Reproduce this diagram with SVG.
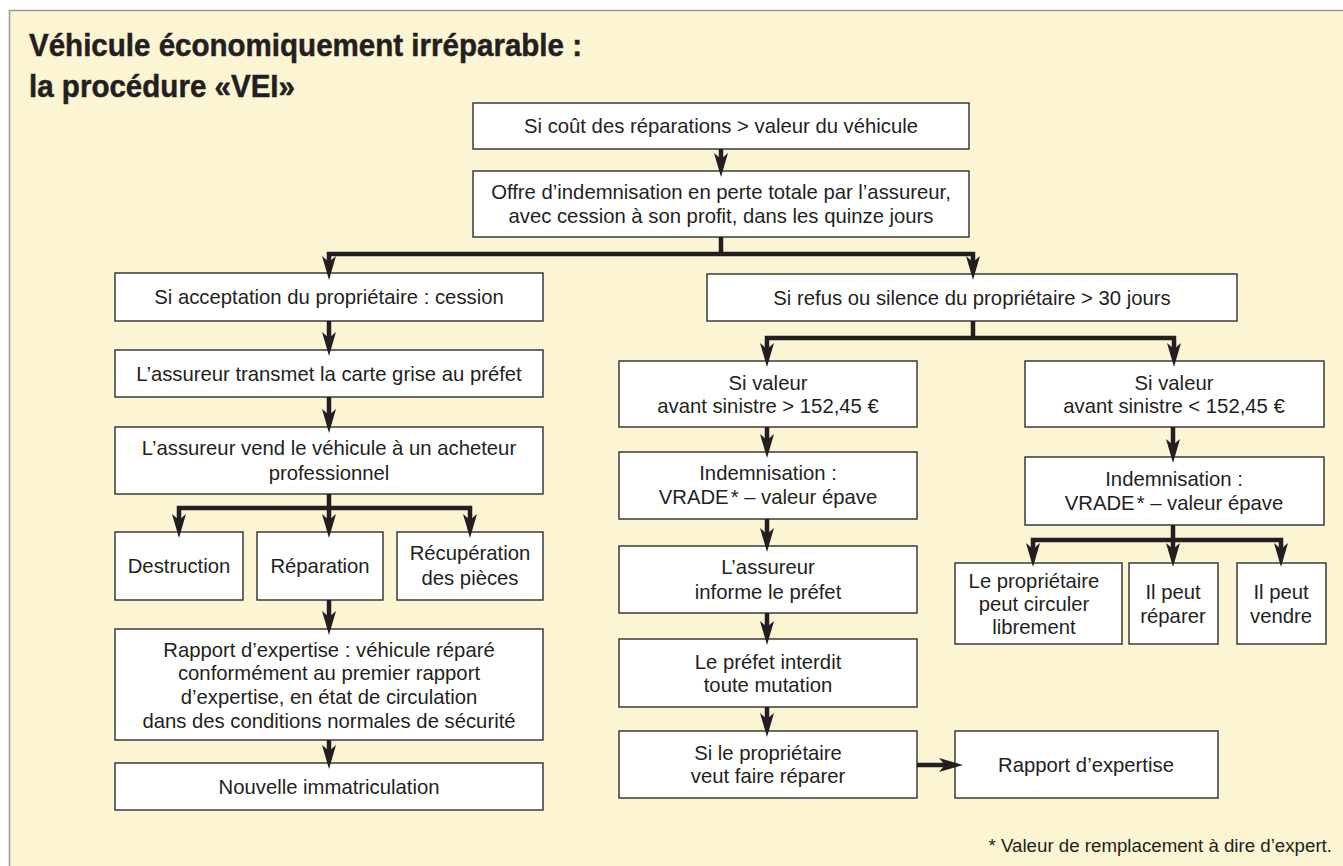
<svg xmlns="http://www.w3.org/2000/svg" width="1343" height="866" viewBox="0 0 1343 866">
<style>
.bg{fill:#FCF5D4;stroke:#9a9a9a;stroke-width:1.5}
.box{fill:#ffffff;stroke:#2e2e2e;stroke-width:1.4}
.t{font-family:"Liberation Sans",Arial,sans-serif;font-size:20.3px;fill:#231F20;text-anchor:middle}
.title{font-family:"Liberation Sans Narrow","Liberation Sans",Arial,sans-serif;font-size:32px;font-weight:bold;fill:#231F20;stroke:#231F20;stroke-width:0.5}
.note{font-family:"Liberation Sans",Arial,sans-serif;font-size:18.7px;fill:#231F20;text-anchor:end}
.c{fill:none;stroke:#231F20;stroke-width:4.5;stroke-linejoin:miter}
.a{marker-end:url(#ah)}
.a2{marker-start:url(#ah);marker-end:url(#ah)}
</style>
<defs>
<marker id="ah" viewBox="0 0 24 14" refX="12" refY="7" markerWidth="24" markerHeight="14" markerUnits="userSpaceOnUse" orient="auto-start-reverse">
<path d="M0,0 L24,7 L0,14 L6,7 Z" fill="#231F20"/>
</marker>
</defs>
<rect class="bg" x="9.5" y="10.5" width="1345" height="870"/>
<g id="title">
<text class="title" x="29" y="56" textLength="553" lengthAdjust="spacingAndGlyphs">Véhicule économiquement irréparable :</text>
<text class="title" x="29" y="97" textLength="266" lengthAdjust="spacingAndGlyphs">la procédure «VEI»</text>
</g>
<g id="n1"><rect class="box" x="473" y="103" width="496" height="46"/><text class="t" x="721" y="133">Si coût des réparations &gt; valeur du véhicule</text></g>
<g id="n2"><rect class="box" x="473" y="171" width="496" height="66"/><text class="t" x="721" y="199">Offre d’indemnisation en perte totale par l’assureur,</text><text class="t" x="721" y="223">avec cession à son profit, dans les quinze jours</text></g>
<g id="l1"><rect class="box" x="115" y="273" width="428" height="48"/><text class="t" x="329" y="304">Si acceptation du propriétaire : cession</text></g>
<g id="l2"><rect class="box" x="115" y="350" width="428" height="47"/><text class="t" x="329" y="381">L’assureur transmet la carte grise au préfet</text></g>
<g id="l3"><rect class="box" x="115" y="427" width="428" height="67"/><text class="t" x="329" y="455">L’assureur vend le véhicule à un acheteur</text><text class="t" x="329" y="480">professionnel</text></g>
<g id="l4a"><rect class="box" x="115" y="532" width="128" height="68"/><text class="t" x="179" y="573">Destruction</text></g>
<g id="l4b"><rect class="box" x="257" y="532" width="126" height="68"/><text class="t" x="320" y="573">Réparation</text></g>
<g id="l4c"><rect class="box" x="397" y="532" width="146" height="68"/><text class="t" x="470" y="560">Récupération</text><text class="t" x="470" y="585">des pièces</text></g>
<g id="l5"><rect class="box" x="115" y="629" width="428" height="111"/><text class="t" x="329" y="657">Rapport d’expertise : véhicule réparé</text><text class="t" x="329" y="680">conformément au premier rapport</text><text class="t" x="329" y="704">d’expertise, en état de circulation</text><text class="t" x="329" y="728">dans des conditions normales de sécurité</text></g>
<g id="l6"><rect class="box" x="115" y="763" width="428" height="47"/><text class="t" x="329" y="794">Nouvelle immatriculation</text></g>
<g id="r1"><rect class="box" x="707" y="274" width="530" height="47"/><text class="t" x="972" y="305">Si refus ou silence du propriétaire &gt; 30 jours</text></g>
<g id="r2a"><rect class="box" x="619" y="361" width="298" height="66"/><text class="t" x="768" y="390">Si valeur</text><text class="t" x="768" y="413">avant sinistre &gt; 152,45 €</text></g>
<g id="r2b"><rect class="box" x="1025" y="361" width="299" height="66"/><text class="t" x="1174" y="390">Si valeur</text><text class="t" x="1174" y="413">avant sinistre &lt; 152,45 €</text></g>
<g id="r3a"><rect class="box" x="619" y="452" width="298" height="67"/><text class="t" x="768" y="480">Indemnisation :</text><text class="t" x="768" y="504">VRADE<tspan dx="2">*</tspan> – valeur épave</text></g>
<g id="r3b"><rect class="box" x="1025" y="457" width="299" height="68"/><text class="t" x="1174" y="486">Indemnisation :</text><text class="t" x="1174" y="510">VRADE<tspan dx="2">*</tspan> – valeur épave</text></g>
<g id="r4a"><rect class="box" x="619" y="546" width="298" height="67"/><text class="t" x="768" y="574">L’assureur</text><text class="t" x="768" y="599">informe le préfet</text></g>
<g id="r5a"><rect class="box" x="619" y="639" width="298" height="68"/><text class="t" x="768" y="669">Le préfet interdit</text><text class="t" x="768" y="692">toute mutation</text></g>
<g id="r6a"><rect class="box" x="619" y="731" width="298" height="67"/><text class="t" x="768" y="760">Si le propriétaire</text><text class="t" x="768" y="783">veut faire réparer</text></g>
<g id="r6b"><rect class="box" x="955" y="731" width="263" height="67"/><text class="t" x="1086" y="772">Rapport d’expertise</text></g>
<g id="r4b1"><rect class="box" x="955" y="563" width="167" height="81"/><text class="t" x="1034" y="588">Le propriétaire</text><text class="t" x="1034" y="611">peut circuler</text><text class="t" x="1034" y="634">librement</text></g>
<g id="r4b2"><rect class="box" x="1129" y="563" width="89" height="81"/><text class="t" x="1173" y="599">Il peut</text><text class="t" x="1173" y="623">réparer</text></g>
<g id="r4b3"><rect class="box" x="1237" y="563" width="89" height="81"/><text class="t" x="1281" y="599">Il peut</text><text class="t" x="1281" y="623">vendre</text></g>
<g id="connectors">
<path class="c a" d="M721,149 V165"/>
<path class="c" d="M721,237 V254"/>
<path class="c a2" d="M329,268 V254 H973 V268"/>
<path class="c a" d="M329,321 V344"/>
<path class="c a" d="M329,397 V421"/>
<path class="c" d="M329,494 V508"/>
<path class="c a2" d="M179,526 V508 H470 V526"/>
<path class="c a" d="M329,508 V526"/>
<path class="c a" d="M329,600 V623"/>
<path class="c a" d="M329,740 V757"/>
<path class="c" d="M973,321 V338"/>
<path class="c a2" d="M767,355 V338 H1174 V355"/>
<path class="c a" d="M767,427 V446"/>
<path class="c a" d="M1173,427 V451"/>
<path class="c a" d="M767,519 V540"/>
<path class="c a" d="M767,613 V633"/>
<path class="c a" d="M767,707 V725"/>
<path class="c a" d="M917,765 H951"/>
<path class="c" d="M1173,525 V540"/>
<path class="c a2" d="M1033,555 V540 H1281 V555"/>
<path class="c a" d="M1173,540 V555"/>
</g>
<text class="note" x="1332" y="852">* Valeur de remplacement à dire d’expert.</text>
</svg>
